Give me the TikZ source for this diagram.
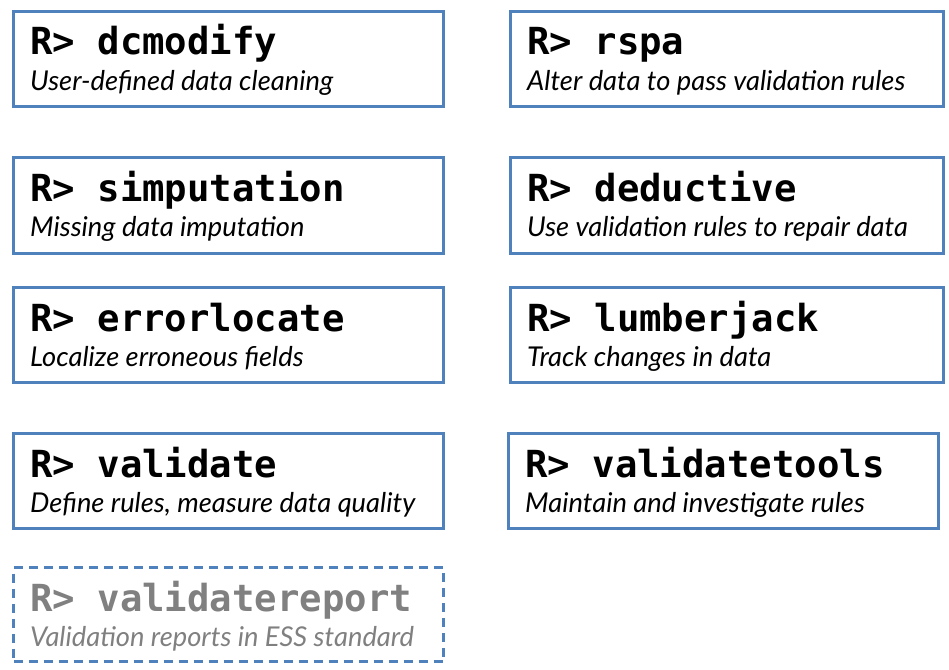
\documentclass[tikz,border=0pt]{standalone}
\usepackage{fontspec}
\setmainfont{Lato}
\newfontfamily\codefont{DejaVu Sans Mono}
\newfontfamily\descfont{Lato}
\definecolor{boxblue}{HTML}{4F81BD}
\definecolor{dimgrey}{HTML}{808080}
\tikzset{
  pkgbox/.style={draw=boxblue, line width=3pt, rectangle, inner sep=0pt, anchor=north west},
  plannedbox/.style={pkgbox, dash pattern=on 9pt off 6pt},
  codetext/.style={anchor=base west, inner sep=0pt, font=\codefont\bfseries\fontsize{37.3}{40}\selectfont},
  desctext/.style={anchor=base west, inner sep=0pt, font=\descfont\itshape\fontsize{27.3}{30}\selectfont},
}
% \pkgnode{name}{left}{top}{right}{bottom}{box style}{text colour}{package}{description}
\newcommand{\pkgnode}[9]{%
  \node[#6, minimum width={#4pt-#2pt}, minimum height={#5pt-#3pt}] (#1) at (#2,#3) {};
  \node[codetext, text=#7] (#1-code) at ([shift={(18pt,-45pt)}]#1.north west) {R> #8};
  \node[desctext, text=#7] (#1-desc) at ([shift={(18pt,-80pt)}]#1.north west) {#9};
}
\begin{document}
\begin{tikzpicture}[x=1pt, y=-1pt]
  \useasboundingbox (0,0) rectangle (949,669);
  \pkgnode{dcmodify}{12}{10}{442}{105}{pkgbox}{black}{dcmodify}{User-defined data cleaning}
  \pkgnode{rspa}{509}{10}{942}{105}{pkgbox}{black}{rspa}{Alter data to pass validation rules}
  \pkgnode{simputation}{12}{156}{442}{252}{pkgbox}{black}{simputation}{Missing data imputation}
  \pkgnode{deductive}{509}{156}{942}{252}{pkgbox}{black}{deductive}{Use validation rules to repair data}
  \pkgnode{errorlocate}{12}{286}{442}{381}{pkgbox}{black}{errorlocate}{Localize erroneous fields}
  \pkgnode{lumberjack}{509}{286}{942}{381}{pkgbox}{black}{lumberjack}{Track changes in data}
  \pkgnode{validate}{12}{432}{442}{527}{pkgbox}{black}{validate}{Define rules, measure data quality}
  \pkgnode{validatetools}{507}{432}{937}{527}{pkgbox}{black}{validatetools}{Maintain and investigate rules}
  \pkgnode{validatereport}{12}{566}{442}{660}{plannedbox}{dimgrey}{validatereport}{Validation reports in ESS standard}
\end{tikzpicture}
\end{document}
